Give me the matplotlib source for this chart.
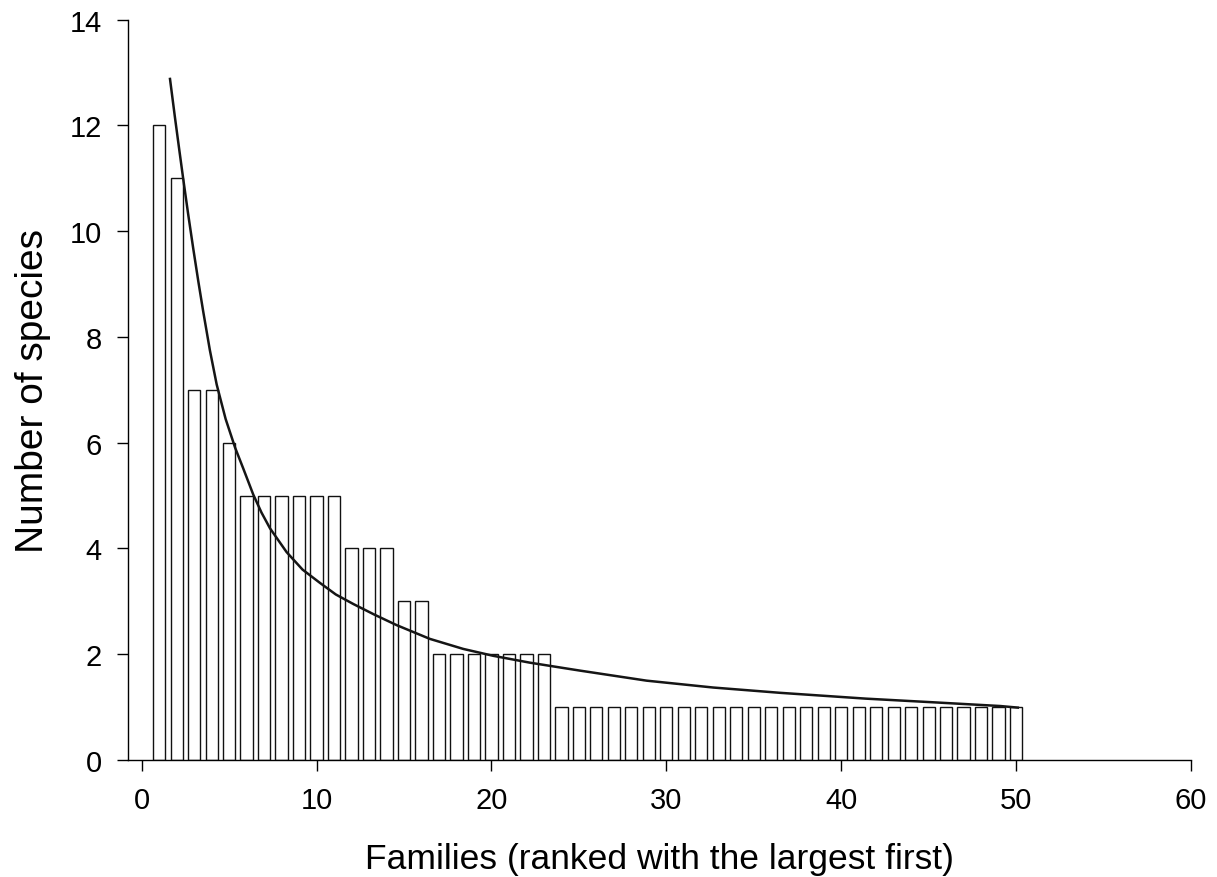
import matplotlib.pyplot as plt

plt.rcParams['font.family'] = ['Liberation Sans', 'DejaVu Sans']

# Species counts per family, families ranked largest first
ranks = list(range(1, 51))
species = [12, 11, 7, 7, 6, 5, 5, 5, 5, 5, 5, 4, 4, 4, 3, 3,
           2, 2, 2, 2, 2, 2, 2] + [1] * 27

# Fitted rank-abundance curve
fit_x = [1.62, 1.90, 2.15, 2.38, 2.66, 2.95, 3.24, 3.52, 3.90, 4.29, 4.80,
         5.35, 5.80, 6.38, 6.85, 7.34, 8.29, 9.20, 10.19, 11.10, 12.10, 13.30,
         14.58, 16.48, 18.39, 20.10, 22.20, 24.10, 25.06, 28.87, 32.68,
         36.50, 41.40, 45.30, 49.10, 50.10]
fit_y = [12.88, 12.16, 11.54, 10.98, 10.32, 9.67, 9.05, 8.48, 7.75, 7.10, 6.45,
         5.90, 5.52, 5.02, 4.68, 4.38, 3.93, 3.60, 3.35, 3.13, 2.95, 2.75,
         2.55, 2.29, 2.10, 1.97, 1.84, 1.74, 1.69, 1.50, 1.37,
         1.27, 1.16, 1.09, 1.02, 0.99]

fig = plt.figure(figsize=(12.17, 8.78), dpi=100)
ax = fig.add_axes([0.1052, 0.1333, 0.8734, 0.8431])

ax.bar(ranks, species, width=0.7, facecolor='white', edgecolor='#111111', linewidth=1.0)
ax.plot(fit_x, fit_y, color='#151515', linewidth=1.8, solid_joinstyle='round')

ax.set_xlim(-0.78, 60)
ax.set_ylim(0, 14)
ax.set_xticks(range(0, 61, 10))
ax.set_yticks(range(0, 15, 2))

for side in ['top', 'right']:
    ax.spines[side].set_visible(False)
for side in ['left', 'bottom']:
    ax.spines[side].set_linewidth(1.0)

ax.tick_params(direction='out', length=8, width=1.0, labelsize=21, pad=11)

ax.set_xlabel('Families (ranked with the largest first)', fontsize=25.5, labelpad=20)
ax.set_ylabel('Number of species', fontsize=28, labelpad=13)

plt.savefig('out.png', dpi=100)
